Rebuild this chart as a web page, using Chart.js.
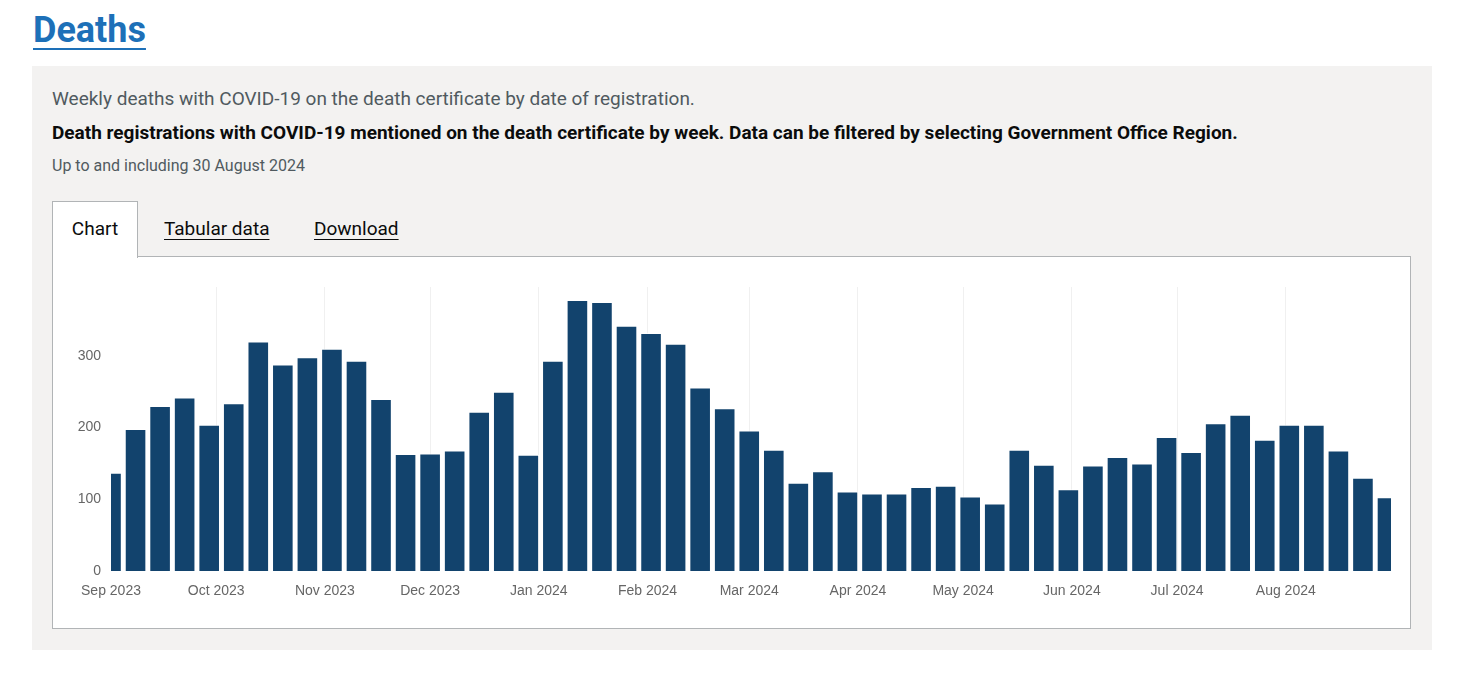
<!DOCTYPE html>
<html>
<head>
<meta charset="utf-8">
<script src="https://cdn.jsdelivr.net/npm/chart.js@4.4.1/dist/chart.umd.min.js"></script>
<style>
  html, body { margin: 0; padding: 0; background: #fff; }
  body { width: 1462px; height: 674px; position: relative; overflow: hidden; font-family: Roboto, "Liberation Sans", Arial, sans-serif; }
  .abs { position: absolute; white-space: nowrap; }
  #title { left: 33px; top: 8px; font-size: 36px; line-height: 44px; font-weight: 700; color: #1d70b8; text-decoration: underline; text-decoration-thickness: 2px; text-underline-offset: 6px; }
  #panel { left: 32px; top: 66px; width: 1400px; height: 584px; background: #f3f2f1; }
  #sub1 { left: 52px; top: 88px; font-size: 19px; line-height: 22px; color: #505a5f; }
  #sub2 { left: 52px; top: 122px; font-size: 19px; line-height: 22px; font-weight: 700; color: #0b0c0c; }
  #sub3 { left: 52px; top: 156px; font-size: 16px; line-height: 20px; color: #505a5f; }
  #tab1 { left: 52px; top: 201px; width: 84px; height: 56px; background: #fff; border: 1px solid #b1b4b6; border-bottom: none; z-index: 2; }
  #tab1 span { position: absolute; left: 0; right: 0; top: 16px; text-align: center; font-size: 19px; line-height: 22px; color: #0b0c0c; }
  .tab { top: 218px; font-size: 19px; line-height: 22px; color: #0b0c0c; text-decoration: underline; text-underline-offset: 4px; }
  #box { left: 52px; top: 256px; width: 1359px; height: 373px; box-sizing: border-box; border: 1px solid #b1b4b6; background: #fff; }
  #cwrap { position: absolute; left: 53px; top: 257px; width: 1357px; height: 371px; z-index: 3; }
</style>
</head>
<body>
<div class="abs" id="title">Deaths</div>
<div class="abs" id="panel"></div>
<div class="abs" id="sub1">Weekly deaths with COVID-19 on the death certificate by date of registration.</div>
<div class="abs" id="sub2">Death registrations with COVID-19 mentioned on the death certificate by week. Data can be filtered by selecting Government Office Region.</div>
<div class="abs" id="sub3">Up to and including 30 August 2024</div>
<div class="abs" id="box"></div>
<div class="abs" id="tab1"><span>Chart</span></div>
<div class="abs tab" style="left:164px">Tabular data</div>
<div class="abs tab" style="left:314px">Download</div>
<div id="cwrap"><canvas id="c"></canvas></div>
<script>
// Week-ending dates (Fridays), first week
const firstWeek = '2023-09-01';
const axisStart = '2023-09-01';
const axisEnd = '2024-08-31';
// Weekly deaths with COVID-19 on the death certificate
const deaths = [137, 198, 230, 242, 204, 234, 320, 288, 298, 310, 293, 240, 163, 164, 168, 222, 250, 162, 293, 378,
                375, 342, 332, 317, 256, 227, 196, 169, 123, 139, 111, 108, 108, 117, 119, 104, 94, 169, 148, 114,
                147, 159, 150, 187, 166, 206, 218, 183, 204, 204, 168, 130, 103];
// Month tick dates and labels
const monthTickDates = ['2023-09-01', '2023-10-01', '2023-11-01', '2023-12-01', '2024-01-01', '2024-02-01',
                        '2024-03-01', '2024-04-01', '2024-05-01', '2024-06-01', '2024-07-01', '2024-08-01'];
const monthTickLabels = ['Sep 2023', 'Oct 2023', 'Nov 2023', 'Dec 2023', 'Jan 2024', 'Feb 2024',
                         'Mar 2024', 'Apr 2024', 'May 2024', 'Jun 2024', 'Jul 2024', 'Aug 2024'];
const yTicks = [0, 100, 200, 300];

const DAY = 86400000;
const dayOf = s => (Date.parse(s + 'T00:00:00Z') - Date.parse(axisStart + 'T00:00:00Z')) / DAY;
const firstDay = dayOf(firstWeek);
const points = deaths.map((v, i) => ({ x: firstDay + i * 7, y: v }));
const tickDays = monthTickDates.map(dayOf);

new Chart(document.getElementById('c'), {
  type: 'bar',
  data: {
    datasets: [{
      label: 'Deaths',
      data: points,
      backgroundColor: '#12436d',
      borderColor: 'rgba(255,255,255,0.75)',
      borderWidth: 1,
      categoryPercentage: 1,
      barPercentage: 0.88,
      clip: 0
    }]
  },
  options: {
    responsive: true,
    maintainAspectRatio: false,
    animation: false,
    layout: { padding: { top: 30, right: 19, left: 0, bottom: 0 } },
    plugins: { legend: { display: false }, tooltip: { enabled: false } },
    scales: {
      x: {
        type: 'linear',
        min: 0,
        max: dayOf(axisEnd),
        offset: false,
        border: { display: false },
        grid: {
          color: c => (c.index === 0 ? 'rgba(0,0,0,0)' : 'rgba(0,0,0,0.06)'),
          drawTicks: false,
          offset: false
        },
        ticks: {
          autoSkip: false,
          maxRotation: 0,
          padding: 12,
          color: '#666',
          font: { family: '"Liberation Sans", Arial, sans-serif', size: 14 },
          callback: (v, i) => monthTickLabels[i]
        },
        afterBuildTicks: s => { s.ticks = tickDays.map(d => ({ value: d })); },
        afterFit: s => { s.height = 57; }
      },
      y: {
        min: 0,
        max: 396,
        border: { display: false },
        grid: { display: false, drawTicks: false },
        ticks: {
          padding: 10,
          color: '#666',
          includeBounds: false,
          font: { family: '"Liberation Sans", Arial, sans-serif', size: 14 }
        },
        afterBuildTicks: s => { s.ticks = yTicks.map(v => ({ value: v })); },
        afterFit: s => { s.width = 58; }
      }
    }
  }
});
</script>
</body>
</html>
